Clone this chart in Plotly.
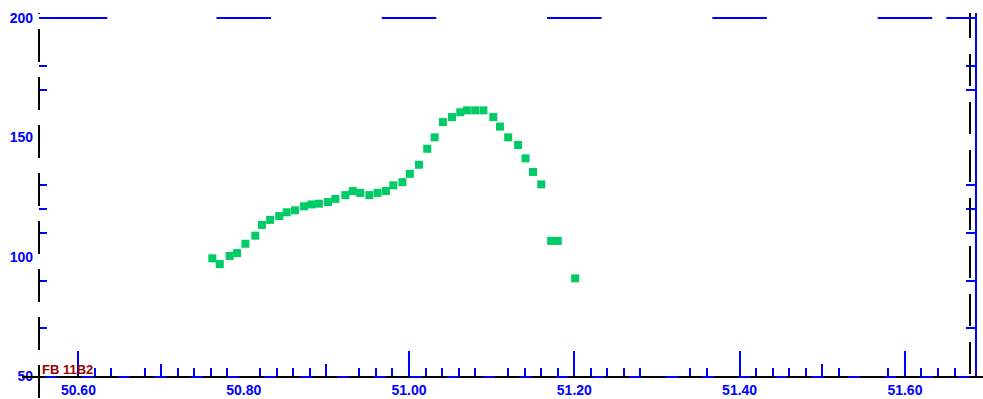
import plotly.graph_objects as go

# ---- data ----
x_vals = [50.762, 50.771, 50.783, 50.792, 50.802, 50.814, 50.822, 50.832, 50.843, 50.852,
          50.862, 50.873, 50.882, 50.891, 50.902, 50.911, 50.923, 50.932, 50.941, 50.952,
          50.962, 50.972, 50.981, 50.992, 51.001, 51.012, 51.022, 51.031, 51.041, 51.052,
          51.062, 51.070, 51.080, 51.090, 51.102, 51.110, 51.120, 51.132, 51.141, 51.150,
          51.160, 51.172, 51.180, 51.201]
y_vals = [99.3, 96.9, 100.3, 101.5, 105.4, 108.8, 113.3, 115.4, 117.0, 118.6,
          119.4, 121.1, 121.9, 122.2, 122.9, 124.2, 125.8, 127.5, 126.7, 125.8,
          126.7, 127.5, 129.9, 131.2, 134.7, 138.5, 145.2, 150.0, 156.4, 158.5,
          160.5, 161.3, 161.3, 161.3, 158.5, 154.5, 150.0, 146.8, 141.2, 135.5,
          130.3, 106.6, 106.6, 90.9]

x_label_vals = [50.60, 50.80, 51.00, 51.20, 51.40, 51.60]
x_label_text = ["50.60", "50.80", "51.00", "51.20", "51.40", "51.60"]
x_long_ticks = [50.60, 51.00, 51.20, 51.40, 51.60]
x_mid_ticks = [50.70, 50.90, 51.50]
x_short_ticks = [50.62, 50.64, 50.68, 50.72, 50.74, 50.76, 50.78, 50.82, 50.84, 50.86,
                 50.88, 50.94, 50.96, 50.98, 51.02, 51.04, 51.06, 51.08, 51.12, 51.14,
                 51.16, 51.18, 51.22, 51.24, 51.26, 51.28, 51.34, 51.36, 51.42, 51.44,
                 51.46, 51.48, 51.52, 51.58, 51.62, 51.64, 51.66]
y_label_vals = [50, 100, 150, 200]
y_label_text = ["50", "100", "150", "200"]
y_minor_ticks = [70, 90, 110, 120, 130, 170, 180]
corner_text = "FB 11B2"

X_RANGE = [50.5523, 51.686]
Y_RANGE = [50, 200]

BLUE = "#0000FF"
GREEN = "#00CC66"
DARKRED = "#990000"
FONT = "Liberation Sans, Arial, sans-serif"

W, H = 983, 399
ML, MR, MT, MB = 39, 7, 18, 23
PW, PH = W - ML - MR, H - MT - MB


def px(xp):
    return (xp - ML) / PW


def py(yp):
    return (H - MB - yp) / PH


fig = go.Figure()
fig.add_trace(go.Scatter(x=x_vals, y=y_vals, mode="markers",
                         marker=dict(symbol="square", size=8, color=GREEN, line=dict(width=0)),
                         showlegend=False, hoverinfo="x+y"))
# invisible helper traces so the overlay axes are drawn
fig.add_trace(go.Scatter(x=x_vals, y=y_vals, xaxis="x2", yaxis="y", mode="markers",
                         marker=dict(opacity=0), showlegend=False, hoverinfo="skip"))
fig.add_trace(go.Scatter(x=x_vals, y=y_vals, xaxis="x", yaxis="y2", mode="markers",
                         marker=dict(opacity=0), showlegend=False, hoverinfo="skip"))

tickfont = dict(family=FONT, size=14, color=BLUE, weight="bold")

fig.update_layout(
    width=W, height=H,
    margin=dict(l=ML, r=MR, t=MT, b=MB, pad=0),
    paper_bgcolor="white", plot_bgcolor="white",
    showlegend=False,
    xaxis=dict(range=X_RANGE, tickmode="array", tickvals=x_label_vals, ticktext=x_label_text,
               ticks="", showgrid=False, zeroline=False, showline=False, automargin=False,
               tickfont=tickfont, ticklabelstandoff=4,
               minor=dict(tickmode="array", tickvals=x_short_ticks, ticks="inside",
                          ticklen=8, tickwidth=1.5, tickcolor=BLUE, showgrid=False)),
    xaxis2=dict(range=X_RANGE, overlaying="x", anchor="y", side="bottom",
                tickmode="array", tickvals=x_long_ticks, ticks="inside", ticklen=25,
                tickwidth=2, tickcolor=BLUE, showticklabels=False, showgrid=False,
                zeroline=False, showline=False, automargin=False,
                minor=dict(tickmode="array", tickvals=x_mid_ticks, ticks="inside",
                           ticklen=12, tickwidth=1.5, tickcolor=BLUE, showgrid=False)),
    yaxis=dict(range=Y_RANGE, tickmode="array", tickvals=y_label_vals, ticktext=y_label_text,
               ticks="", showgrid=False, zeroline=False, showline=False, automargin=False,
               tickfont=tickfont, ticklabelstandoff=5,
               minor=dict(tickmode="array", tickvals=y_minor_ticks, ticks="inside",
                          ticklen=8, tickwidth=1.5, tickcolor=BLUE, showgrid=False)),
    yaxis2=dict(range=Y_RANGE, overlaying="y", anchor="x", side="right",
                tickmode="array", tickvals=y_label_vals, ticks="", showticklabels=False,
                showgrid=False, zeroline=False, showline=False, automargin=False,
                minor=dict(tickmode="array", tickvals=y_minor_ticks, ticks="inside",
                           ticklen=10, tickwidth=1.5, tickcolor=BLUE, showgrid=False)),
)

shapes = []
# left black dashed frame line
shapes.append(dict(type="line", xref="paper", yref="paper", x0=px(39), x1=px(39),
                   y0=py(-19), y1=py(399), line=dict(color="black", width=2, dash="33px,15px")))
# right black dashed line
shapes.append(dict(type="line", xref="paper", yref="paper", x0=px(970), x1=px(970),
                   y0=py(6), y1=py(376), line=dict(color="black", width=2, dash="32px,16px")))
# right blue solid line
shapes.append(dict(type="line", xref="paper", yref="paper", x0=px(976), x1=px(976),
                   y0=py(13), y1=py(377), line=dict(color=BLUE, width=2)))
# top blue dashes centred on the labelled values
half = 0.033
top_segments = [(X_RANGE[0], x_label_vals[0] + 0.035)]
top_segments += [(v - half, v + half) for v in x_label_vals[1:]]
top_segments.append((51.650, X_RANGE[1]))
for a, b in top_segments:
    shapes.append(dict(type="line", xref="x", yref="paper", x0=a, x1=b, y0=1, y1=1,
                       line=dict(color=BLUE, width=2)))
# black baseline
shapes.append(dict(type="line", xref="paper", yref="paper", x0=px(22), x1=px(983),
                   y0=py(377), y1=py(377), line=dict(color="black", width=2)))
# blue dashes on the baseline
shapes.append(dict(type="line", xref="paper", yref="paper", x0=px(45), x1=px(970),
                   y0=py(377), y1=py(377), line=dict(color=BLUE, width=2, dash="12px,24.5px")))
# white cover above y=13
shapes.append(dict(type="rect", xref="paper", yref="paper", x0=-0.05, x1=1.02,
                   y0=py(13), y1=py(-5), fillcolor="white", line=dict(width=0)))
fig.update_layout(shapes=shapes)

fig.add_annotation(text=corner_text, xref="paper", yref="paper", x=px(40), y=py(369.5),
                   xanchor="left", yanchor="middle", showarrow=False,
                   font=dict(family=FONT, size=13, color=DARKRED, weight="bold"))

fig.write_html("out.html", config={"displayModeBar": False},
               post_script="document.body.style.margin='0px';")
